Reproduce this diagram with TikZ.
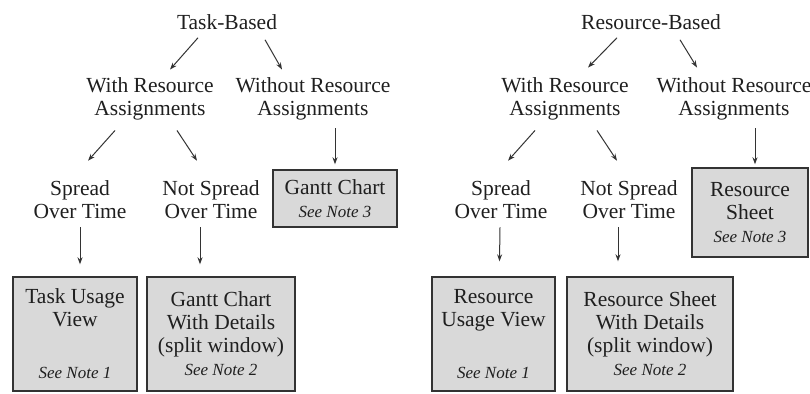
\documentclass[tikz,border=0pt]{standalone}
\usepackage{fontspec}
\setmainfont{Liberation Serif}
\usetikzlibrary{arrows.meta}
\begin{document}
\begin{tikzpicture}[x=1pt,y=-1pt,
  txt/.style={align=center,inner sep=0pt,text=black!88,
    font=\fontsize{21.5}{23}\selectfont},
  viewbox/.style={txt,draw=black!80,line width=1.4pt,fill=black!15,
    minimum width=#1},
  arr/.style={draw=black!80,line width=1pt,
    -{Stealth[length=7pt,width=5pt]}}]
\newcommand{\seenote}[1]{{\fontsize{17}{23}\selectfont\itshape See Note #1}}
\useasboundingbox (0,0) rectangle (810,393);

% ---- task-based tree ----
\node[txt] (tb) at (227,22) {Task-Based};
\node[txt] (tw) at (150,99) {With Resource\\Assignments};
\node[txt] (two) at (313,99) {Without Resource\\Assignments};
\node[txt] (ts) at (80,200) {Spread\\Over Time};
\node[txt] (tn) at (211,200) {Not Spread\\Over Time};
\node[viewbox=124pt,minimum height=57pt] (tg) at (335,198.5)
  {Gantt Chart\\\seenote{3}};
\node[viewbox=124pt,minimum height=114pt] (tu) at (75,334)
  {Task Usage\\View\\[29pt]\seenote{1}};
\node[viewbox=148pt,minimum height=114pt] (td) at (221,334)
  {Gantt Chart\\With Details\\(split window)\\\seenote{2}};

\draw[arr] ([xshift=-29pt,yshift=-8pt]tb.south) -- ([xshift=20pt,yshift=8pt]tw.north);
\draw[arr] ([xshift=38pt,yshift=-10pt]tb.south) -- ([xshift=-31pt,yshift=8pt]two.north);
\draw[arr] ([xshift=-35pt,yshift=-10pt]tw.south) -- ([xshift=8pt,yshift=20pt]ts.north);
\draw[arr] ([xshift=27pt,yshift=-10pt]tw.south) -- ([xshift=-14pt,yshift=20pt]tn.north);
\draw[arr] ([xshift=22pt,yshift=-8pt]two.south) -- ([xshift=0pt,yshift=5pt]tg.north);
\draw[arr] ([yshift=-8pt]ts.south) -- ([xshift=5pt,yshift=12pt]tu.north);
\draw[arr] ([xshift=-11pt,yshift=-8pt]tn.south) -- ([xshift=-21pt,yshift=12pt]td.north);

% ---- resource-based tree ----
\node[txt] (rb) at (651,22) {Resource-Based};
\node[txt] (rw) at (565,99) {With Resource\\Assignments};
\node[txt] (rwo) at (734,99) {Without Resource\\Assignments};
\node[txt] (rs) at (501,200) {Spread\\Over Time};
\node[txt] (rn) at (629,200) {Not Spread\\Over Time};
\node[viewbox=116pt,minimum height=89pt] (rsh) at (750,212.5)
  {Resource\\Sheet\\\seenote{3}};
\node[viewbox=123pt,minimum height=114pt] (ru) at (493.5,334)
  {Resource\\Usage View\\[29pt]\seenote{1}};
\node[viewbox=166pt,minimum height=114pt] (rd) at (650,334)
  {Resource Sheet\\With Details\\(split window)\\\seenote{2}};

\draw[arr] ([xshift=-34pt,yshift=-8pt]rb.south) -- ([xshift=23pt,yshift=10pt]rw.north);
\draw[arr] ([xshift=29pt,yshift=-10pt]rb.south) -- ([xshift=-37pt,yshift=10pt]rwo.north);
\draw[arr] ([xshift=-30pt,yshift=-10pt]rw.south) -- ([xshift=7pt,yshift=20pt]rs.north);
\draw[arr] ([xshift=32pt,yshift=-10pt]rw.south) -- ([xshift=-12pt,yshift=20pt]rn.north);
\draw[arr] ([xshift=21pt,yshift=-8pt]rwo.south) -- ([xshift=5pt,yshift=3pt]rsh.north);
\draw[arr] ([xshift=-1pt,yshift=-8pt]rs.south) -- ([xshift=6pt,yshift=15pt]ru.north);
\draw[arr] ([xshift=-11pt,yshift=-8pt]rn.south) -- ([xshift=-32pt,yshift=15pt]rd.north);
\end{tikzpicture}
\end{document}
